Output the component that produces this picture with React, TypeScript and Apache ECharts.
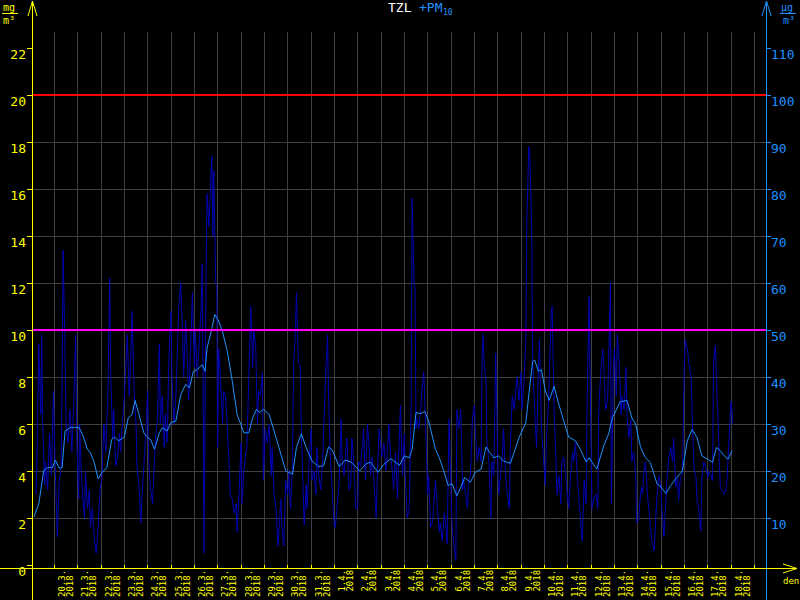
import React, { useEffect, useRef } from 'react';
import * as echarts from 'echarts';

// ---------- data ----------
const DAY_LABELS = [
  '20.3.', '21.3.', '22.3.', '23.3.', '24.3.', '25.3.', '26.3.', '27.3.', '28.3.', '29.3.',
  '30.3.', '31.3.', '1.4.', '2.4.', '3.4.', '4.4.', '5.4.', '6.4.', '7.4.', '8.4.',
  '9.4.', '10.4.', '11.4.', '12.4.', '13.4.', '14.4.', '15.4.', '16.4.', '17.4.', '18.4.',
];
const YEAR = '2018';
const LEFT_TICKS = [0, 2, 4, 6, 8, 10, 12, 14, 16, 18, 20, 22]; // TZL mg/m3
const RIGHT_TICKS = [10, 20, 30, 40, 50, 60, 70, 80, 90, 100, 110]; // PM10 µg/m3
const LIMIT_RED = 100; // µg/m3
const LIMIT_MAGENTA = 50; // µg/m3

// hour index (from axis start, 19.3. 01:00) , PM10 µg/m3 – hourly values
const PM10_HOURLY: [number, number][] = [
  [4,15],[5,21],[7,47],[9,32],[10,49],[11,30],[13,17],[14,22],[16,16],[18,28],[20,19],[22,37],[24,20],[26,6],[28,18],[30,21],[31,40],[32,67],[34,45],[35,30],[37,26],[39,33],[41,24],[43,35],[45,49],[46,27],[48,14],[49,30],[51,18],[54,10],[55,20],[57,12],[59,16],[60,8],[62,12],[64,6],[66,2.5],[68,8],[70,16],[72,19],[74,30],[76,24],[78,36],[80,61],[81,40],[83,27],[84,33],[86,21],[88,23],[90,28],[91,24],[93,30],[95,36],[96,40],[98,49],[100,36],[102,46],[103,54],[105,37],[107,30],[108,21],[110,17],[112,9],[113,14],[115,21],[117,28],[119,37],[120,22],[122,16],[124,13],[125,18],[127,27],[129,31],[131,47],[132,30],[134,36],[136,25],[137,32],[139,26],[141,45],[143,54],[144,40],[146,30],[148,36],[149,42],[151,55],[153,60],[155,48],[156,40],[158,52],[160,43],[161,35],[163,45],[165,58],[167,42],[168,50],[170,40],[172,47],[174,55],[175,64],[176,40],[177,2.5],[179,60],[180,79],[182,72],[184,83],[185,87],[186,70],[187,84],[189,60],[190,59],[191,25],[192,46],[194,39],[196,30],[197,37],[199,36],[201,29],[203,20],[204,15],[206,14],[208,11],[210,13],[211,7],[213,15],[215,26],[216,13],[218,20],[220,24],[221,25],[223,40],[225,55],[227,42],[228,50],[230,47],[232,30],[233,37],[235,36],[237,41],[238,18],[240,29],[242,26],[244,30],[246,19],[247,25],[249,15],[251,12],[252,8],[253,4],[256,14],[257,8],[259,4],[261,18],[263,15],[264,20],[266,12],[268,22],[269,42],[271,50],[272,58],[274,43],[276,42],[277,29],[280,8.5],[282,17],[283,12],[285,22],[287,29],[288,18],[290,20],[292,15],[293,25],[295,19],[297,16],[299,22],[300,29],[302,40],[304,49],[305,36],[307,22],[309,15],[311,8],[312,8],[314,13],[316,18],[318,31],[319,22],[321,19],[323,25],[324,27],[326,16],[328,17],[329,27],[331,22],[333,12],[335,12],[336,22],[338,21],[340,26],[341,29],[343,18],[345,30],[347,24],[348,19],[350,23],[352,17],[354,10],[355,18],[357,29],[359,25],[360,23],[362,26],[364,20],[365,22],[367,30],[369,23],[371,19],[372,16],[374,24],[376,14],[377,22],[379,34],[381,19],[383,28],[384,19],[386,10],[388,12],[390,33],[391,78],[393,60],[394,59],[395,29],[396,31],[398,29],[400,34],[401,37],[403,41],[405,29],[407,15],[408,19],[410,8],[412,9],[413,12],[415,18],[417,12],[419,7],[420,9],[422,5],[424,11],[426,8],[427,4.5],[429,31],[431,16],[432,9],[434,4],[436,1],[437,33],[439,29],[441,33],[443,16],[444,18],[446,15],[448,12],[449,18],[451,19],[453,31],[455,34],[456,29],[458,22],[460,25],[462,22],[463,45],[464,49],[465,43],[467,39],[468,26],[470,22],[472,10],[473,22],[475,19],[477,45],[479,22],[480,15],[482,19],[484,24],[485,29],[487,19],[489,15],[491,12],[492,25],[494,36],[496,33],[498,38],[499,40],[501,35],[503,41],[504,33],[506,39],[508,48],[509,73],[511,89],[512,88],[514,71],[515,43],[517,33],[519,25],[521,43],[522,48],[524,29],[526,23],[528,17],[529,26],[531,33],[534,53],[535,55],[537,33],[539,22],[540,15],[542,19],[544,13],[545,22],[547,23],[549,19],[551,14],[552,12],[554,19],[556,24],[557,22],[559,26],[561,18],[563,13],[564,10],[566,5],[568,18],[570,13],[571,35],[573,57],[575,26],[576,12],[578,14],[580,15],[582,12],[583,33],[585,41],[587,46],[588,43],[590,33],[592,35],[593,42],[595,60],[596,13],[598,42],[599,46],[601,36],[602,49],[604,43],[606,32],[607,36],[609,33],[611,42],[612,32],[614,27],[616,31],[617,22],[619,24],[621,19],[622,9],[624,9.5],[625,13],[627,16.5],[628,15],[629,19],[631,22],[633,15],[635,11],[636,8],[638,4.5],[640,3],[642,11.5],[643,15],[645,19],[647,16.5],[648,11.5],[650,6],[652,13.7],[653,18],[655,22.8],[657,25],[659,22],[660,27],[662,16.5],[664,18.6],[665,13.7],[667,18.6],[669,19.3],[671,43],[672,48],[674,46],[676,42.6],[678,39.8],[679,32.7],[681,20.7],[683,18.6],[684,13.7],[686,11.5],[688,7.3],[689,18.6],[691,22],[693,20.7],[695,18.6],[696,20],[698,19.3],[700,17.9],[701,43],[703,46.8],[704,39],[706,29.2],[707,22],[708,16.5],[710,15.8],[712,15],[714,16.5],[715,18.6],[717,27],[719,34.8],[720,32.7],[721,29.9],
];

// hour index, PM10 running average µg/m3
const PM10_AVG: [number, number][] = [
  [2,10.2],[7,13.0],[12,20.1],[16,20.7],[21,20.7],[24,22.3],[28,20.6],[31,20.7],[34,28.5],[40,29.3],[45,29.2],[48,29.3],[52,27.8],[57,24.6],[60,23.9],[64,21.8],[68,18.3],[72,19.7],[77,20.7],[82,26.7],[85,27.2],[89,26.4],[95,27.2],[99,31.3],[103,32.0],[106,35.0],[110,32.0],[115,28.1],[119,27.1],[122,26.7],[126,24.6],[131,28.1],[134,29.2],[139,28.5],[143,30.3],[148,30.6],[153,36.2],[158,38.4],[162,37.7],[166,41.2],[170,41.5],[175,42.6],[178,41.2],[180,46.1],[185,50.3],[188,53.3],[192,51.9],[196,49.6],[201,45.4],[206,39.1],[211,32.0],[218,28.1],[223,28.1],[227,31.3],[231,33.1],[234,32.4],[238,33.1],[244,32.0],[248,29.2],[254,25.0],[261,20.0],[268,19.3],[272,25.0],[277,27.9],[282,25.0],[288,22.1],[295,20.9],[300,21.1],[305,25.1],[309,24.4],[316,20.9],[322,22.3],[328,21.9],[337,20.0],[343,21.4],[348,21.9],[356,19.7],[362,21.4],[369,22.6],[378,21.2],[383,23.2],[388,22.8],[391,24.6],[395,32.4],[400,32.2],[404,32.7],[408,30.6],[415,24.6],[419,22.8],[424,19.7],[428,16.9],[432,17.3],[437,14.7],[441,16.5],[445,18.6],[451,17.6],[456,19.7],[462,20.4],[467,25.1],[471,23.9],[475,22.8],[480,23.2],[485,22.1],[492,21.6],[497,24.6],[501,27.1],[508,30.3],[511,36.2],[515,43.3],[517,43.6],[521,41.2],[524,41.5],[528,37.0],[532,35.0],[537,38.0],[542,34.1],[547,30.6],[552,27.2],[559,26.4],[564,24.6],[570,21.9],[573,22.8],[581,20.4],[588,25.3],[593,27.8],[597,31.3],[605,34.7],[612,35.0],[617,31.3],[621,29.9],[626,25.0],[631,22.8],[636,21.8],[643,17.2],[647,16.6],[652,15.2],[657,16.9],[662,18.3],[669,20.0],[674,26.4],[679,28.8],[684,27.1],[689,23.2],[695,22.5],[700,21.8],[704,25.0],[708,24.3],[712,23.2],[716,22.5],[720,24.3],
];

const AXIS_HOURS = 756; // hourly slots shown on the time axis
const FIRST_MIDNIGHT = 23; // slot index of 20.3. 00:00

// ---------- styling ----------
const YELLOW = '#ffff00';
const BLUE = '#1e90ff';
const DARK_BLUE = '#0000b4';
const GRID = '#404040';
const MONO = '"DejaVu Sans Mono", monospace';

const hourOfDay = (i: number) => (((i - FIRST_MIDNIGHT) % 24) + 24) % 24;
const dayOf = (i: number) => Math.floor((i - FIRST_MIDNIGHT) / 24);
const isMidnight = (i: number) => hourOfDay(i) === 0;
const labelFor = (i: number) => {
  const d = dayOf(i);
  if (hourOfDay(i) !== 12 || d < 0 || d >= DAY_LABELS.length) return '';
  const date = DAY_LABELS[d];
  return date + '\n' + YEAR.padEnd(date.length, '\u00a0');
};

export default function App() {
  const ref = useRef<HTMLDivElement>(null);

  useEffect(() => {
    if (!ref.current) return;
    const chart = echarts.init(ref.current, null, { renderer: 'svg' });
    const categories = Array.from({ length: AXIS_HOURS }, (_, i) => String(i));
    const leftMax = 22 * 536 / 520;

    const option: any = {
      animation: false,
      backgroundColor: '#000000',
      grid: { left: 32, right: 34, top: 32, bottom: 32, containLabel: false },
      xAxis: [
        {
          type: 'category',
          position: 'bottom',
          data: categories,
          boundaryGap: false,
          axisLine: { show: false },
          axisTick: { show: true, interval: (i: number) => isMidnight(i), length: 4, lineStyle: { color: YELLOW } },
          splitLine: { show: true, interval: (i: number) => isMidnight(i), lineStyle: { color: GRID, width: 1 } },
          axisLabel: {
            interval: (i: number) => labelFor(i) !== '',
            formatter: (_v: string, i: number) => labelFor(i),
            rotate: 90,
            color: YELLOW,
            fontFamily: MONO,
            fontSize: 9,
            lineHeight: 8,
            margin: 5,
          },
        },
        { type: 'value', position: 'bottom', min: 0, max: AXIS_HOURS - 1, show: false, splitLine: { show: false } },
      ],
      yAxis: [
        {
          type: 'value',
          position: 'left',
          min: 0,
          max: leftMax,
          interval: 2,
          axisLine: { show: false },
          axisTick: { show: true, length: 5, lineStyle: { color: YELLOW }, customValues: LEFT_TICKS },
          axisLabel: {
            customValues: LEFT_TICKS,
            color: YELLOW,
            fontFamily: MONO,
            fontSize: 13,
            margin: 6,
            verticalAlign: 'top',
            formatter: (v: number) => (v > 22.5 ? '' : String(v)),
          },
          splitLine: { show: true, showMinLine: false, showMaxLine: false, lineStyle: { color: GRID, width: 1 } },
        },
        {
          type: 'value',
          position: 'right',
          min: 0,
          max: leftMax * 5,
          interval: 10,
          axisLine: { show: false },
          axisTick: { show: true, length: 5, lineStyle: { color: BLUE }, customValues: RIGHT_TICKS },
          axisLabel: {
            customValues: RIGHT_TICKS,
            color: BLUE,
            fontFamily: MONO,
            fontSize: 13,
            margin: 5,
            verticalAlign: 'top',
            formatter: (v: number) => (v < 5 || v > 112 ? '' : String(v)),
          },
          splitLine: { show: false },
        },
      ],
      series: [
        {
          type: 'line',
          name: 'PM10',
          xAxisIndex: 1,
          yAxisIndex: 1,
          data: PM10_HOURLY,
          symbol: 'none',
          lineStyle: { color: DARK_BLUE, width: 1 },
          z: 2,
          silent: true,
        },
        {
          type: 'line',
          name: 'PM10 avg',
          xAxisIndex: 1,
          yAxisIndex: 1,
          data: PM10_AVG,
          symbol: 'none',
          lineStyle: { color: BLUE, width: 1 },
          z: 3,
          silent: true,
          markLine: {
            silent: true,
            symbol: 'none',
            label: { show: false },
            data: [
              { yAxis: LIMIT_RED, lineStyle: { color: '#ff0000', width: 2, type: 'solid' } },
              { yAxis: LIMIT_MAGENTA, lineStyle: { color: '#ff00ff', width: 2, type: 'solid' } },
            ],
          },
        },
      ],
      graphic: [
        // axis lines with extensions and arrows
        { type: 'line', shape: { x1: 32.5, y1: 1, x2: 32.5, y2: 600 }, style: { stroke: YELLOW, lineWidth: 1 }, z: 10 },
        { type: 'polyline', shape: { points: [[28, 16], [32.5, 1], [37, 16]] }, style: { stroke: YELLOW, fill: null, lineWidth: 1 }, z: 10 },
        { type: 'line', shape: { x1: 766.5, y1: 1, x2: 766.5, y2: 600 }, style: { stroke: BLUE, lineWidth: 1 }, z: 10 },
        { type: 'polyline', shape: { points: [[762, 16], [766.5, 1], [771, 16]] }, style: { stroke: BLUE, fill: null, lineWidth: 1 }, z: 10 },
        { type: 'line', shape: { x1: 0, y1: 568.5, x2: 797, y2: 568.5 }, style: { stroke: YELLOW, lineWidth: 1 }, z: 11 },
        { type: 'polyline', shape: { points: [[783, 564], [797, 568.5], [783, 573]] }, style: { stroke: YELLOW, fill: null, lineWidth: 1 }, z: 11 },
        { type: 'text', style: { text: 'den', x: 783, y: 576, fill: YELLOW, font: '9px ' + MONO } },
        // units left
        { type: 'text', style: { text: 'mg', x: 3, y: 2, fill: YELLOW, font: '10px ' + MONO } },
        { type: 'line', shape: { x1: 2, y1: 13.5, x2: 18, y2: 13.5 }, style: { stroke: YELLOW, lineWidth: 1 } },
        { type: 'text', style: { text: 'm³', x: 3, y: 15, fill: YELLOW, font: '10px ' + MONO } },
        // units right
        { type: 'text', style: { text: 'µg', x: 781, y: 2, fill: BLUE, font: '10px ' + MONO } },
        { type: 'line', shape: { x1: 780, y1: 13.5, x2: 796, y2: 13.5 }, style: { stroke: BLUE, lineWidth: 1 } },
        { type: 'text', style: { text: 'm³', x: 783, y: 15, fill: BLUE, font: '10px ' + MONO } },
        // title
        { type: 'text', style: { text: 'TZL', x: 388, y: 1, fill: '#ffffff', font: '13px ' + MONO } },
        { type: 'text', style: { text: '+PM', x: 419, y: 1, fill: BLUE, font: '13px ' + MONO } },
        { type: 'text', style: { text: '10', x: 443, y: 8, fill: BLUE, font: '8px ' + MONO } },
      ],
    };

    chart.setOption(option);
    return () => chart.dispose();
  }, []);

  return (
    <div
      ref={ref}
      style={{ position: 'fixed', left: 0, top: 0, width: 800, height: 600, background: '#000' }}
    />
  );
}
